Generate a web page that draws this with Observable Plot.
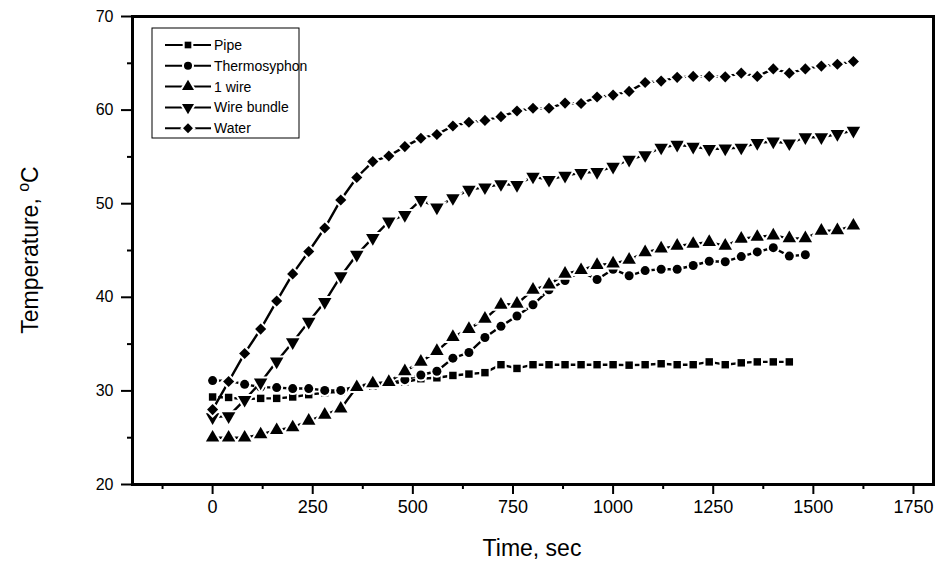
<!DOCTYPE html>
<html><head><meta charset="utf-8">
<script src="https://cdn.jsdelivr.net/npm/d3@7"></script>
<script src="https://cdn.jsdelivr.net/npm/@observablehq/plot@0.6"></script>
<style>
body{margin:0;background:#fff}
#chart{position:relative;width:944px;height:568px}
#chart svg g[aria-label="dot"] * { paint-order: stroke; }
</style>
</head><body><div id="chart"></div>
<script>
// ---- data ----
const time = [0,40,80,120,160,200,240,280,320,360,400,440,480,520,560,600,640,680,720,760,800,
  840,880,920,960,1000,1040,1080,1120,1160,1200,1240,1280,1320,1360,1400,1440,1480,1520,1560,1600];
const seriesNames = ["Pipe","Thermosyphon","1 wire","Wire bundle","Water"];
const pipe = [29.35,29.3,29.1,29.2,29.2,29.35,29.6,29.8,29.9,30.25,30.5,30.8,30.95,31.3,31.4,31.65,31.8,
  31.95,32.8,32.4,32.8,32.8,32.8,32.8,32.8,32.8,32.75,32.8,32.9,32.8,32.8,33.1,32.8,33.0,33.1,33.1,33.1];
const thermosyphon = [31.1,31.1,30.7,30.4,30.35,30.25,30.25,30.05,30.05,30.5,30.8,30.8,31.2,31.7,32.1,33.5,
  34.1,35.7,36.9,38.0,39.2,40.8,41.8,42.75,41.9,43.0,42.3,42.85,43.0,43.0,43.4,43.85,43.8,44.35,44.85,45.3,44.4,44.55];
const oneWire = [25.0,25.0,25.0,25.35,25.8,26.1,26.8,27.45,28.1,30.4,30.8,30.95,32.1,33.1,34.25,35.75,36.6,
  37.7,39.2,39.3,40.8,41.35,42.5,42.9,43.45,43.6,44.0,44.8,45.2,45.5,45.7,45.9,45.5,46.25,46.45,46.6,46.3,46.3,47.1,47.15,47.65];
const wireBundle = [27.2,27.3,29.05,30.9,33.15,35.2,37.4,39.5,42.25,44.55,46.35,48.1,48.8,50.4,49.6,50.6,51.5,
  51.75,52.1,52.0,52.9,52.55,53.0,53.3,53.4,53.95,54.7,55.2,56.0,56.3,56.1,55.85,55.9,56.0,56.5,56.65,56.45,57.1,57.1,57.45,57.8];
const water = [28.0,31.0,34.0,36.6,39.6,42.5,44.9,47.4,50.4,52.8,54.5,55.1,56.1,57.0,57.4,58.3,58.7,
  58.9,59.3,59.9,60.2,60.2,60.75,60.7,61.4,61.6,62.0,62.95,63.1,63.5,63.6,63.6,63.55,63.95,63.6,64.4,63.95,64.4,64.7,64.9,65.2];
const xTicks = [0,250,500,750,1000,1250,1500,1750];
const xMinorTicks = [-125,125,375,625,875,1125,1375,1625];
const yTicks = [20,30,40,50,60,70];
const yMinorTicks = [25,35,45,55,65];

// ---- styling ----
const symbols = ["square","circle","triangle","triangle","diamond2"];
const d3Symbols = [d3.symbolSquare, d3.symbolCircle, d3.symbolTriangle, d3.symbolTriangle, d3.symbolDiamond2];
const rotations = [0,0,0,180,0];
const radii = [4.2,4.5,5,5,5];

const seriesValues = [pipe, thermosyphon, oneWire, wireBundle, water];
const rows = seriesValues.flatMap((vals, i) => vals.map((v, j) => ({series: seriesNames[i], k: i, t: time[j], v})));

const marks = [];
seriesNames.forEach((name, i) => {
  const d = rows.filter(r => r.k === i);
  marks.push(Plot.line(d, {x: "t", y: "v", stroke: "black", strokeWidth: 2.4}));
  marks.push(Plot.dot(d, {x: "t", y: "v", symbol: symbols[i], rotate: rotations[i], r: radii[i],
    fill: "black", stroke: "white", strokeWidth: 4, paintOrder: "stroke"}));
});

const W = 944, H = 568;
const chart = Plot.plot({
  width: W, height: H,
  marginLeft: 132, marginRight: 11, marginTop: 16, marginBottom: 84,
  style: {fontFamily: "'Liberation Sans', Arial, sans-serif", fontSize: "16px", color: "black", background: "white"},
  x: {domain: [-200, 1800]},
  y: {domain: [20, 70]},
  marks: [
    Plot.axisX({ticks: xTicks, tickSize: 10, tickPadding: 6, strokeWidth: 2, fontSize: 18, tickFormat: d3.format("d"), label: null}),
    Plot.axisX({ticks: xMinorTicks, tickSize: 5, strokeWidth: 2, tickFormat: () => "", label: null}),
    Plot.axisY({ticks: yTicks, tickSize: 11, tickPadding: 8, strokeWidth: 2, fontSize: 16, tickFormat: d3.format("d"), label: null}),
    Plot.axisY({ticks: yMinorTicks, tickSize: 5, strokeWidth: 2, tickFormat: () => "", label: null}),
    ...marks,
    Plot.frame({stroke: "black", strokeWidth: 3})
  ]
});
document.getElementById("chart").appendChild(chart);

// ---- axis titles and in-plot legend ----
const svg = d3.select(chart);
svg.append("text").attr("x", 532).attr("y", 556).attr("text-anchor", "middle")
  .attr("font-size", 23).attr("fill", "black").text("Time, sec");
const yt = svg.append("text").attr("transform", "translate(38,250) rotate(-90)")
  .attr("text-anchor", "middle").attr("font-size", 23).attr("fill", "black");
yt.append("tspan").text("Temperature, ");
yt.append("tspan").attr("font-size", 16).attr("dy", -9).text("o");
yt.append("tspan").attr("dy", 9).text("C");

const lg = svg.append("g").attr("text-anchor", "start");
lg.append("rect").attr("x", 152).attr("y", 28).attr("width", 147).attr("height", 110)
  .attr("fill", "white").attr("stroke", "black").attr("stroke-width", 1);
seriesNames.forEach((name, i) => {
  const y = 45 + i * 20.8;
  lg.append("line").attr("x1", 165).attr("x2", 211).attr("y1", y).attr("y2", y)
    .attr("stroke", "black").attr("stroke-width", 2);
  lg.append("path").attr("d", d3.symbol(d3Symbols[i], Math.PI * radii[i] * radii[i] * 0.8)())
    .attr("transform", `translate(188,${y}) rotate(${rotations[i]})`)
    .attr("fill", "black").attr("stroke", "white").attr("stroke-width", 4).attr("paint-order", "stroke");
  lg.append("text").attr("x", 214).attr("y", y).attr("dy", "0.35em").attr("font-size", 14)
    .attr("text-anchor", "start").attr("fill", "black").text(name);
});
</script>
</body></html>
